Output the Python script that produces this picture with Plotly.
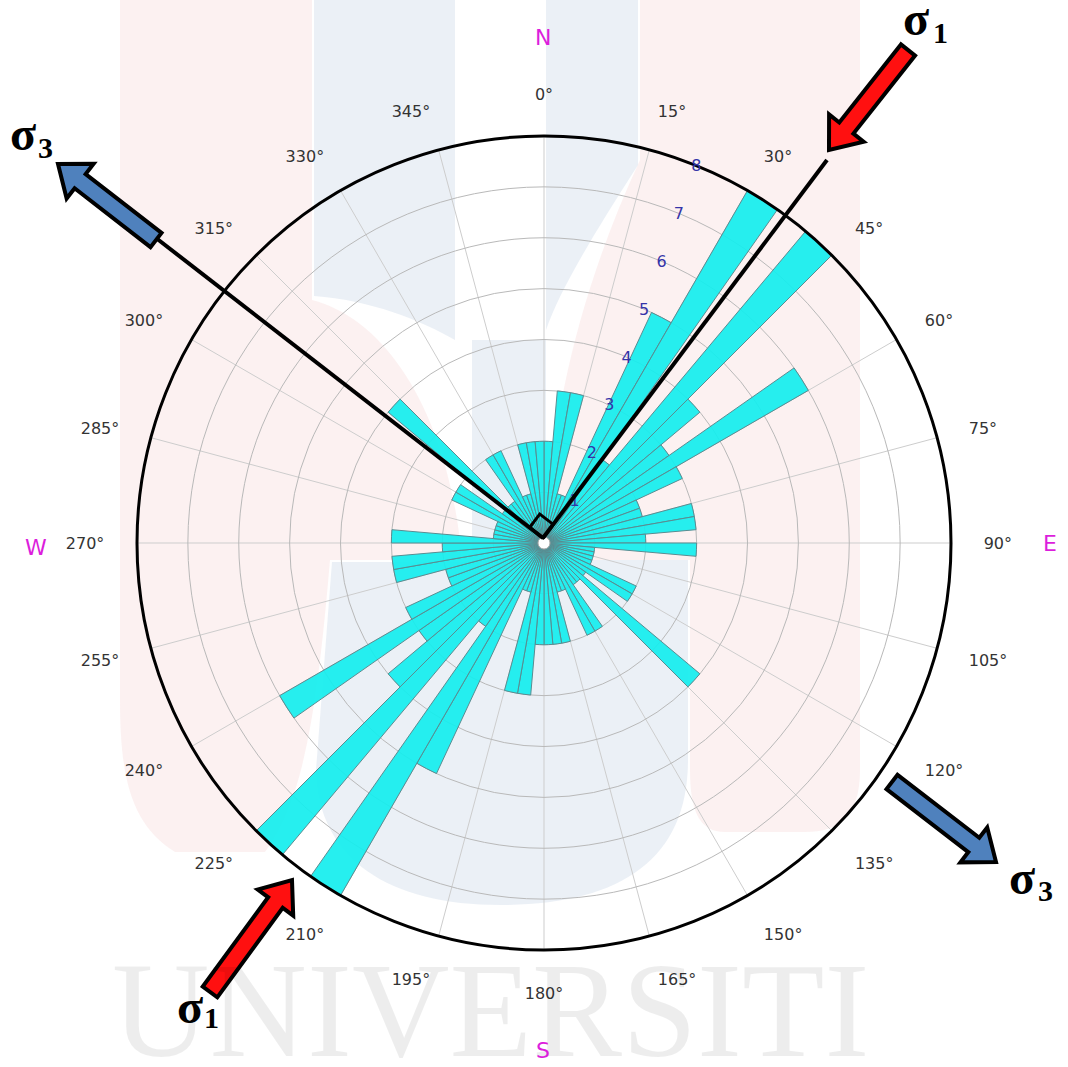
import plotly.graph_objects as go

# ---- data: fracture strike counts in 5-degree bins (bidirectional rose) ----
bin_starts_north = [0, 5, 10, 15, 20, 25, 30, 35, 40, 45, 50, 55,
                    60, 65, 70, 75, 80, 85, 90, 95, 100, 105, 110, 115,
                    120, 125, 130, 135, 140, 145, 150, 155, 160, 165, 170, 175]
counts_north = [2, 3, 3, 1, 1, 5, 8, 2, 8, 4, 3, 6,
                3, 2, 2, 3, 3, 2, 3, 1, 1, 1, 1, 2,
                2, 1, 4, 1, 1, 2, 2, 1, 1, 2, 2, 2]
bin_starts_south = [180, 185, 190, 195, 200, 205, 210, 215, 220, 225, 230, 235,
                    240, 245, 250, 255, 260, 265, 270, 275, 280, 285, 290, 295,
                    300, 305, 310, 315, 320, 325, 330, 335, 340, 345, 350, 355]
counts_south = [2, 3, 3, 1, 1, 5, 8, 2, 8, 4, 3, 6,
                3, 2, 2, 3, 3, 2, 3, 1, 1, 1, 1, 2,
                2, 1, 4, 1, 1, 2, 2, 1, 1, 2, 2, 2]
bin_width = 5

angular_ticks = list(range(0, 360, 15))
angular_labels = [f"{a}°" for a in angular_ticks]
radial_ticks = [1, 2, 3, 4, 5, 6, 7, 8]
radial_labels = ["1", "2", "3", "4", "5", "6", "7", "8"]

W, H = 1068, 1067


def px(x):
    return x / W


def py(y):
    return 1 - y / H


fig = go.Figure()

starts = bin_starts_north + bin_starts_south
counts = counts_north + counts_south
fig.add_trace(go.Barpolar(
    theta=[s + bin_width / 2 for s in starts],
    r=counts,
    width=[bin_width] * len(starts),
    marker=dict(color="rgba(20,238,238,0.92)",
                line=dict(color="rgb(90,140,145)", width=1)),
    hoverinfo="skip",
))

fig.update_layout(
    width=W, height=H,
    margin=dict(l=0, r=0, t=0, b=0),
    paper_bgcolor="white",
    showlegend=False,
    polar=dict(
        domain=dict(x=[px(137), px(951)], y=[py(950), py(136)]),
        bgcolor="rgba(0,0,0,0)",
        angularaxis=dict(
            rotation=90, direction="clockwise",
            tickvals=angular_ticks, ticktext=angular_labels,
            tickfont=dict(family="DejaVu Sans", size=16, color="#333333"),
            ticks="outside", ticklen=28, tickcolor="rgba(0,0,0,0)",
            showline=True, linecolor="black", linewidth=3,
            gridcolor="rgb(205,205,205)", gridwidth=1,
        ),
        radialaxis=dict(
            range=[0, 8], tickvals=radial_ticks, ticktext=radial_labels,
            angle=70, tickangle=70,
            tickfont=dict(family="DejaVu Sans", size=16, color="#3434a8"),
            showline=False, ticks="",
            gridcolor="rgb(185,185,185)", gridwidth=1.2,
        ),
    ),
)

# ---- faint watermark behind the chart ----
shapes = []
wm_pink = "rgba(245,200,200,0.26)"
wm_blue = "rgba(190,205,225,0.30)"


def P(x, y):
    return f"{px(x)},{py(y)}"


def blob(cmds, fill):
    # cmds: list of (op, points); every L point becomes its own command
    parts = []
    for op, pts in cmds:
        if op in ("M", "L"):
            parts.extend(f"{op} {P(x, y)}" for x, y in pts)
        else:
            parts.append(op + " " + " ".join(P(x, y) for x, y in pts))
    return dict(type="path", xref="paper", yref="paper", layer="below",
                path=" ".join(parts) + " Z", fillcolor=fill, line=dict(width=0))


# left pink column with rounded foot
shapes.append(blob([("M", [(120, 0)]), ("L", [(312, 0), (312, 300)]),
                    ("C", [(390, 320), (450, 420), (462, 560)]),
                    ("L", [(330, 560)]),
                    ("C", [(318, 700), (305, 800), (265, 852)]),
                    ("L", [(175, 852)]),
                    ("C", [(132, 825), (120, 780), (120, 700)])], wm_pink))
# right pink column, joined by a diagonal stroke towards the centre
shapes.append(blob([("M", [(640, 0)]), ("L", [(860, 0), (860, 770)]),
                    ("C", [(860, 815), (840, 832), (805, 832)]),
                    ("L", [(725, 832)]),
                    ("C", [(700, 832), (690, 812), (690, 770)]),
                    ("L", [(690, 560), (548, 560)]),
                    ("C", [(545, 440), (575, 300), (640, 160)])], wm_pink))
# blue arms at the top
shapes.append(blob([("M", [(314, 0)]), ("L", [(455, 0), (455, 340)]),
                    ("C", [(420, 320), (370, 300), (314, 296)])], wm_blue))
shapes.append(blob([("M", [(546, 0)]), ("L", [(638, 0), (638, 165)]),
                    ("C", [(590, 240), (560, 290), (546, 330)])], wm_blue))
# blue bowl under the centre
shapes.append(blob([("M", [(472, 340)]), ("L", [(546, 340), (546, 560), (688, 560), (688, 760)]),
                    ("C", [(688, 860), (620, 905), (500, 905)]),
                    ("C", [(390, 905), (318, 860), (316, 770)]),
                    ("L", [(332, 562), (472, 562)])], wm_blue))


# ---- stress axes: lines, right-angle mark and arrows ----
def seg(x0, y0, x1, y1, w=4):
    return dict(type="line", xref="paper", yref="paper", layer="above",
                x0=px(x0), y0=py(y0), x1=px(x1), y1=py(y1),
                line=dict(color="black", width=w))


# small pale hub at the centre of the rose
shapes.append(dict(type="circle", xref="paper", yref="paper", layer="above",
                   x0=px(538), x1=px(550), y0=py(549), y1=py(537),
                   fillcolor="white", line=dict(color="rgb(170,170,170)", width=1)))

O = (543, 538)
shapes.append(seg(O[0], O[1], 827, 160))
shapes.append(seg(O[0], O[1], 156, 238))

u1 = ((827 - O[0]) / 473.0, (160 - O[1]) / 473.0)
u2 = ((156 - O[0]) / 490.0, (238 - O[1]) / 490.0)
s = 17
p1 = (O[0] + s * u1[0], O[1] + s * u1[1])
p3 = (O[0] + s * u2[0], O[1] + s * u2[1])
p2 = (p1[0] + s * u2[0], p1[1] + s * u2[1])
sq = f"M {P(*O)} L {P(*p1)} L {P(*p2)} L {P(*p3)} Z"
shapes.append(dict(type="path", xref="paper", yref="paper", layer="above",
                   path=sq, line=dict(color="black", width=3)))


def arrow(tail, tip, fill, half_w=9, head_hw=22, head_len=28):
    dx, dy = tip[0] - tail[0], tip[1] - tail[1]
    L = (dx * dx + dy * dy) ** 0.5
    ux, uy = dx / L, dy / L
    nx, ny = -uy, ux
    bx, by = tip[0] - ux * head_len, tip[1] - uy * head_len
    pts = [
        (tail[0] + nx * half_w, tail[1] + ny * half_w),
        (bx + nx * half_w, by + ny * half_w),
        (bx + nx * head_hw, by + ny * head_hw),
        tip,
        (bx - nx * head_hw, by - ny * head_hw),
        (bx - nx * half_w, by - ny * half_w),
        (tail[0] - nx * half_w, tail[1] - ny * half_w),
    ]
    path = "M " + " L ".join(P(x, y) for x, y in pts) + " Z"
    return dict(type="path", xref="paper", yref="paper", layer="above",
                path=path, fillcolor=fill, line=dict(color="black", width=4))


BLUE = "rgb(79,129,189)"
RED = "rgb(255,16,16)"
shapes.append(arrow((156, 240), (58, 164), BLUE))
shapes.append(arrow((892, 782), (996, 862), BLUE))
shapes.append(arrow((908, 50), (829, 150), RED))
shapes.append(arrow((210, 992), (292, 880), RED))

fig.update_layout(shapes=shapes)


# ---- annotations ----
def label(text, x, y, size, color, family, bold=False):
    t = f"<b>{text}</b>" if bold else text
    return dict(text=t, x=px(x), y=py(y), xref="paper", yref="paper",
                xanchor="center", yanchor="middle", showarrow=False,
                font=dict(family=family, size=size, color=color))


ann = [label("UNIVERSITI", 490, 1010, 135, "rgba(0,0,0,0.07)", "Liberation Serif")]
for t, x, y in [("N", 543, 37), ("E", 1050, 543), ("S", 543, 1050), ("W", 36, 547)]:
    ann.append(label(t, x, y, 22, "rgb(220,30,220)", "DejaVu Sans"))
# principal stress symbols: sigma glyph plus its index
for sub, sx, sy, dx, dy in [("1", 916, 24, 940, 32), ("3", 23, 138, 45, 147),
                            ("3", 1022, 882, 1045, 890), ("1", 190, 1011, 211, 1017)]:
    ann.append(label("σ", sx, sy - 5, 48, "black", "Liberation Serif", bold=True))
    ann.append(label(sub, dx, dy, 30, "black", "Liberation Serif", bold=True))
fig.update_layout(annotations=ann)

fig.write_html("out.html")
